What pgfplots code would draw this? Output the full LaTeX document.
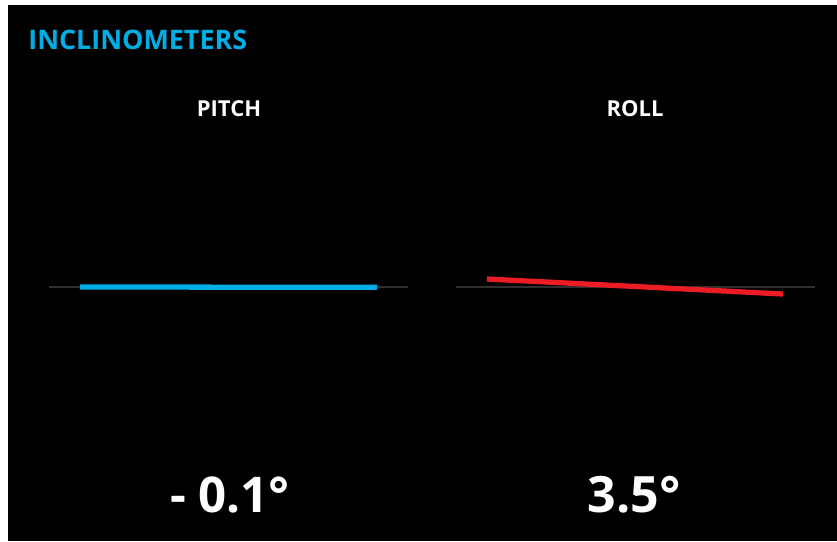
\documentclass[border=0pt]{standalone}
\usepackage{pgfplots}
\pgfplotsset{compat=1.18}
\usepackage{fontspec}
\setmainfont{Open Sans}
\definecolor{incblue}{RGB}{0,174,230}
\definecolor{incred}{RGB}{236,28,36}
\definecolor{refgray}{RGB}{48,48,48}
\begin{document}
\begin{tikzpicture}
\begin{axis}[
  scale only axis,
  width=16.74cm, height=10.82cm,
  xmin=0, xmax=837, ymin=0, ymax=541,
  y dir=reverse,
  hide axis,
  clip=false,
]
% panel background
\fill[white] (axis cs:0,0) rectangle (axis cs:837,541);
\fill[black] (axis cs:8,5) rectangle (axis cs:837,541);

% reference lines
\addplot[refgray, line width=1.2pt] coordinates {(49,287) (408,287)};
\addplot[refgray, line width=1.2pt] coordinates {(456,287) (815,287)};

% pitch (-0.1 deg) and roll (3.5 deg) bars
\addplot[incblue, line width=3pt] coordinates {(80,287) (377,287.3)};
\addplot[incred, line width=3pt] coordinates {(487,279) (783,294)};

% texts
\node[anchor=west, inner sep=0pt, text=incblue, font=\fontsize{15.3}{18}\selectfont\bfseries] at (axis cs:28,40) {INCLINOMETERS};
\node[text=white, font=\fontsize{12.5}{15}\selectfont\bfseries] at (axis cs:229,109) {PITCH};
\node[text=white, font=\fontsize{12.5}{15}\selectfont\bfseries] at (axis cs:635,109) {ROLL};
\node[text=white, font=\fontsize{28}{32}\selectfont\bfseries] at (axis cs:230,495) {- 0.1°};
\node[text=white, font=\fontsize{28.5}{32}\selectfont\bfseries] at (axis cs:634,495) {3.5°};
\end{axis}
\end{tikzpicture}
\end{document}
